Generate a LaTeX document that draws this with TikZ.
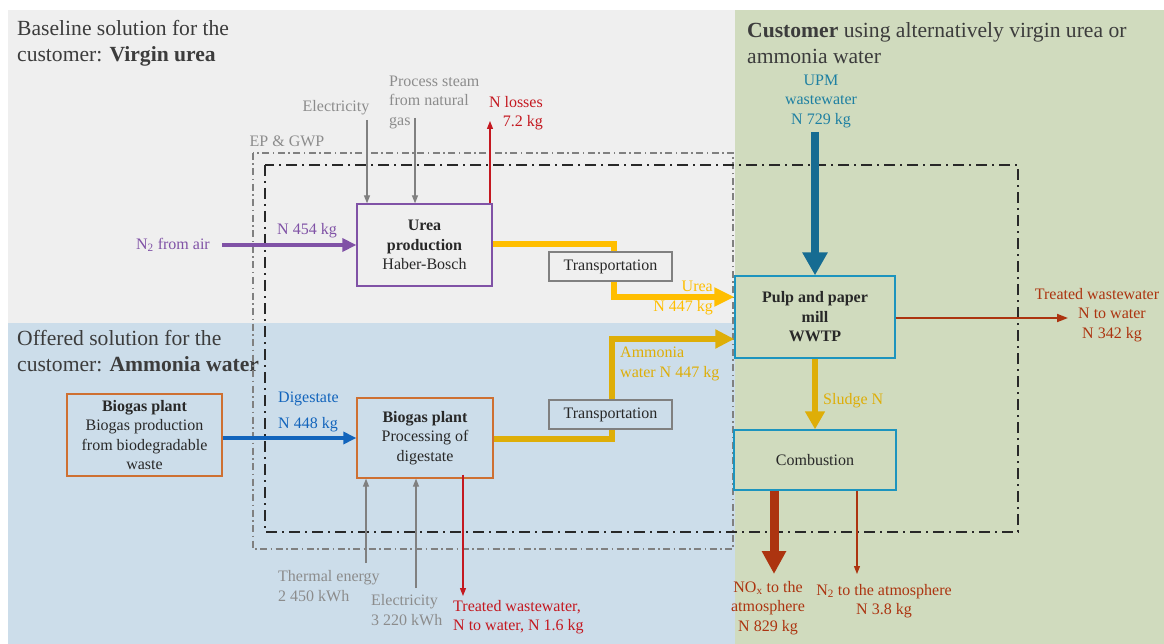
\documentclass[tikz,border=0pt]{standalone}
\usepackage{fontspec}
\setmainfont{Liberation Serif}
\usetikzlibrary{arrows.meta,positioning}

\definecolor{panelgray}{RGB}{239,239,239}
\definecolor{panelblue}{RGB}{204,221,234}
\definecolor{panelgreen}{RGB}{208,219,190}
\definecolor{ink}{RGB}{40,40,40}
\definecolor{titleink}{RGB}{60,60,60}
\definecolor{cpurple}{RGB}{128,82,166}
\definecolor{curea}{RGB}{255,190,0}
\definecolor{cammonia}{RGB}{222,174,8}
\definecolor{cdigest}{RGB}{18,100,188}
\definecolor{cteal}{RGB}{22,108,146}
\definecolor{ctealtext}{RGB}{30,128,162}
\definecolor{cboxteal}{RGB}{28,148,190}
\definecolor{corange}{RGB}{206,112,50}
\definecolor{closs}{RGB}{196,24,32}
\definecolor{crust}{RGB}{172,52,16}
\definecolor{cgrayline}{RGB}{128,128,128}
\definecolor{cgraytext}{RGB}{140,140,140}

\newcommand\bodyfont{\fontsize{16}{19.5}\selectfont}
\newcommand\titlefont{\fontsize{21.6}{26}\selectfont}

\begin{document}
\begin{tikzpicture}[x=1pt,y=-1pt,
    box/.style={draw,line width=1.3pt,align=center,inner sep=0pt,font=\bodyfont,text=ink},
    lbl/.style={inner sep=0pt,font=\bodyfont},
    ttl/.style={inner sep=0pt,font=\titlefont,text=titleink,align=left,anchor=west},
    thinflow/.style={line width=1.2pt,-{Triangle[length=8pt,width=6pt]}},
    outerbound/.style={cgrayline,line width=1.3pt,dash pattern=on 7pt off 3.5pt on 1.5pt off 3.5pt},
    innerbound/.style={ink,line width=2pt,dash pattern=on 11pt off 5pt on 2pt off 5pt},
  ]
  \useasboundingbox (0,0) rectangle (1164,644);
  %% Panels
  \fill[white] (0,0) rectangle (1164,644);
  \fill[panelgray] (8,10) rectangle (735,323);
  \fill[panelblue] (8,323) rectangle (735,644);
  \fill[panelgreen] (735,10) rectangle (1164,644);

  %% Titles
  \node[ttl] (ttlbase) at (17,43) {Baseline solution for the\\customer: \textbf{Virgin urea}};
  \node[ttl] (ttloffer) at (17,351) {Offered solution for the\\customer: \textbf{Ammonia water}};
  \node[ttl] (ttlcust) at (747,43) {\textbf{Customer} using alternatively virgin urea or\\ammonia water};

  %% System boundaries
  \draw[outerbound] (253,153) rectangle (733,549);
  \draw[innerbound] (265,165) rectangle (1018,532);
  \node[lbl,text=cgraytext] (epgwp) at (287,141) {EP \& GWP};

  %% Process boxes
  \node[box,draw=cpurple,minimum width=135pt,minimum height=82pt] (urea) at (424.5,245)
    {\textbf{Urea}\\\textbf{production}\\Haber-Bosch};
  \node[box,draw=corange,fill=panelblue,minimum width=155pt,minimum height=82pt] (bioA) at (144.5,435)
    {\textbf{Biogas plant}\\Biogas production\\from biodegradable\\waste};
  \node[box,draw=corange,minimum width=136pt,minimum height=80pt] (bioB) at (425,438)
    {\textbf{Biogas plant}\\Processing of\\digestate};
  \node[box,draw=cboxteal,minimum width=160pt,minimum height=82pt] (pulp) at (815,317)
    {\textbf{Pulp and paper}\\\textbf{mill}\\\textbf{WWTP}};
  \node[box,draw=cboxteal,minimum width=162pt,minimum height=60pt] (comb) at (815,460) {Combustion};

  %% Free ends
  \coordinate (elecTin) at (367,120);
  \coordinate (steamin) at (415,118);
  \coordinate (lossout) at (490,121);
  \coordinate (airin) at (222,245);
  \coordinate (upmin) at (815,132);
  \coordinate (trwrout) at (1068,318);
  \coordinate (thermin) at (366,563);
  \coordinate (elecBin) at (416,588);
  \coordinate (trwbout) at (463,596);
  \coordinate (noxout) at (774,574);
  \coordinate (n2out) at (857,574);

  %% Urea route
  \draw[cgrayline,thinflow] (elecTin) -- (elecTin |- urea.north);
  \draw[cgrayline,thinflow] (steamin) -- (steamin |- urea.north);
  \draw[closs,thinflow] (lossout |- urea.north) -- (lossout);
  \draw[cpurple,line width=4pt,-{Triangle[length=14pt,width=13pt]}] (airin) -- (urea.west);
  \draw[curea,line width=6pt,-{Triangle[length=20pt,width=18pt]}]
    ([yshift=1pt]urea.east) -- ++(121,0) |- (pulp.west |- 0,297);

  %% Ammonia water route
  \draw[cdigest,line width=3.5pt,-{Triangle[length=13pt,width=12pt]}] (bioA.east |- bioB.west) -- (bioB.west);
  \draw[cgrayline,thinflow] (thermin) -- (thermin |- bioB.south);
  \draw[cgrayline,thinflow] (elecBin) -- (elecBin |- bioB.south);
  \draw[closs,thinflow] ([yshift=4pt]bioB.south -| trwbout) -- (trwbout);
  \draw[cammonia,line width=6pt,-{Triangle[length=19pt,width=18pt]}]
    ([yshift=-1pt]bioB.east) -- ++(118,0) |- (pulp.west |- 0,339);

  %% Transport boxes
  \node[box,draw=cgrayline,fill=panelgray,line width=1.2pt,minimum width=123pt,minimum height=29pt] (trtop) at (610.5,266.5) {Transportation};
  \node[box,draw=cgrayline,fill=panelblue,line width=1.2pt,minimum width=123pt,minimum height=29pt] (trbot) at (610.5,414.5) {Transportation};

  %% Customer
  \draw[cteal,line width=8pt,-{Triangle[length=23pt,width=24pt]}] (upmin) -- (pulp.north);
  \draw[crust,line width=1.8pt,-{Triangle[length=11pt,width=8pt]}] (pulp.east |- trwrout) -- (trwrout);
  \draw[cammonia,line width=6pt,-{Triangle[length=18pt,width=19pt]}] (pulp.south) -- (comb.north);
  \draw[crust,line width=9pt,-{Triangle[length=23pt,width=23pt]}] (comb.south -| noxout) -- (noxout);
  \draw[crust,line width=1.2pt,-{Triangle[length=8pt,width=6pt]}] (comb.south -| n2out) -- (n2out);

  %% Flow labels
  \node[lbl,text=cgraytext] (elecT) at (336,108) {Electricity};
  \node[lbl,text=cgraytext,align=left,anchor=west] (steam) at (389,102) {Process steam\\from natural\\gas};
  \node[lbl,text=closs,align=right,anchor=east] (loss) at (543,113) {N losses\\7.2 kg};
  \node[lbl,text=cpurple] (n454) at (307,231) {N 454 kg};
  \node[lbl,text=cpurple,anchor=east] (n2air) at (210,245) {N\textsubscript{2} from air};
  \node[lbl,text=curea,align=right,anchor=east] (urealbl) at (713,298) {Urea\\N 447 kg};
  \node[lbl,text=cdigest,align=left,anchor=west] (digest) at (278,412) {Digestate\\[7pt]N 448 kg};
  \node[lbl,text=cammonia,align=left,anchor=west] (ammlbl) at (620,364) {Ammonia\\water N 447 kg};
  \node[lbl,text=cgraytext,align=left,anchor=west] (therm) at (278,586) {Thermal energy\\2 450 kWh};
  \node[lbl,text=cgraytext,align=left,anchor=west] (elecB) at (371,610) {Electricity\\3 220 kWh};
  \node[lbl,text=closs,align=left,anchor=west] (trwb) at (453,617) {Treated wastewater,\\N to water, N 1.6 kg};
  \node[lbl,text=ctealtext,align=center] (upm) at (821,101) {UPM\\wastewater\\N 729 kg};
  \node[lbl,text=crust,align=center] (trwr) at (1112,315)
    {\makebox[0pt]{\hspace*{-30pt}Treated wastewater}\\N to water\\N 342 kg};
  \node[lbl,text=cammonia,anchor=west] (sludge) at (823,401) {Sludge N};
  \node[lbl,text=crust,align=center] (nox) at (768,608) {NO\textsubscript{x} to the\\atmosphere\\N 829 kg};
  \node[lbl,text=crust,align=center] (n2atm) at (884,601) {N\textsubscript{2} to the atmosphere\\N 3.8 kg};
\end{tikzpicture}
\end{document}
